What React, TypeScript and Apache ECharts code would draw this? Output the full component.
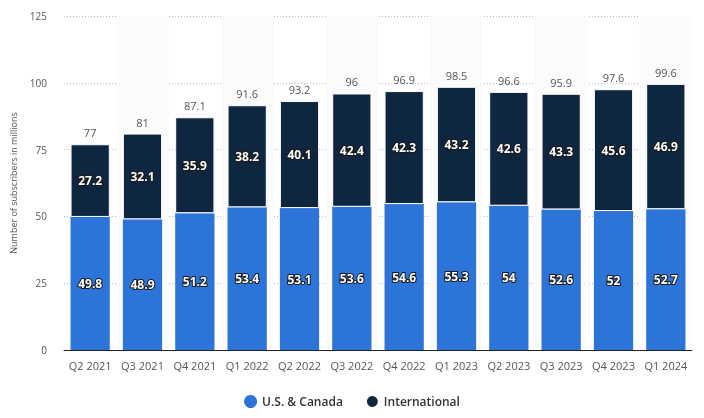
import React, { useEffect, useRef } from "react";
import * as echarts from "echarts";

const quarters = [
  "Q2 2021", "Q3 2021", "Q4 2021", "Q1 2022", "Q2 2022", "Q3 2022",
  "Q4 2022", "Q1 2023", "Q2 2023", "Q3 2023", "Q4 2023", "Q1 2024",
];
const usCanada = [49.8, 48.9, 51.2, 53.4, 53.1, 53.6, 54.6, 55.3, 54, 52.6, 52, 52.7];
const international = [27.2, 32.1, 35.9, 38.2, 40.1, 42.4, 42.3, 43.2, 42.6, 43.3, 45.6, 46.9];
const yTicks = [0, 25, 50, 75, 100, 125];

const FONT = "'Open Sans', 'Noto Sans', sans-serif";

const segmentLabel = {
  show: true,
  position: "inside" as const,
  color: "#fff",
  fontFamily: FONT,
  fontWeight: "bold" as const,
  fontSize: 12,
  textBorderColor: "#1a1a1a",
  textBorderWidth: 2,
};

export default function App() {
  const ref = useRef<HTMLDivElement>(null);

  useEffect(() => {
    if (!ref.current) return;
    const chart = echarts.init(ref.current, undefined, { renderer: "svg" });
    const totals = usCanada.map((v, i) => Math.round((v + international[i]) * 10) / 10);
    chart.setOption({
      animation: false,
      textStyle: { fontFamily: FONT },
      grid: { left: 64, right: 12, top: 16, bottom: 68 },
      legend: {
        bottom: 4,
        left: "center",
        icon: "circle",
        itemWidth: 13,
        itemHeight: 13,
        itemGap: 22,
        textStyle: { color: "#333", fontSize: 12, fontWeight: 600, fontFamily: FONT },
        data: ["U.S. & Canada", "International"],
      },
      xAxis: {
        type: "category",
        data: quarters,
        axisLine: { lineStyle: { color: "#222", width: 1 } },
        axisTick: { show: false },
        axisLabel: { color: "#555", fontSize: 11, margin: 10, interval: 0 },
        splitArea: { show: true, areaStyle: { color: ["rgba(255,255,255,0)", "#fbfbfc"] } },
      },
      yAxis: {
        type: "value",
        min: yTicks[0],
        max: yTicks[yTicks.length - 1],
        interval: 25,
        name: "Number of subscribers in millions",
        nameLocation: "middle",
        nameGap: 46,
        nameTextStyle: { color: "#555", fontSize: 9 },
        axisLine: { show: false },
        axisTick: { show: false },
        axisLabel: { color: "#555", fontSize: 10, margin: 17 },
        splitLine: { lineStyle: { color: "#bbb", type: [1, 2], width: 1 } },
      },
      series: [
        {
          name: "U.S. & Canada",
          type: "bar",
          stack: "subs",
          barWidth: "75%",
          data: usCanada,
          itemStyle: { color: "#2c74d7" },
          label: segmentLabel,
        },
        {
          name: "International",
          type: "bar",
          stack: "subs",
          data: international,
          itemStyle: { color: "#0f2640", borderColor: "#fff", borderWidth: 1 },
          label: segmentLabel,
        },
        {
          name: "Total",
          type: "bar",
          stack: "subs",
          data: totals.map(() => 0),
          itemStyle: { color: "transparent" },
          label: {
            show: true,
            position: "top",
            distance: 6,
            color: "#555",
            fontSize: 11,
            formatter: (p: any) => String(totals[p.dataIndex]),
          },
          tooltip: { show: false },
        },
      ],
    });
    return () => chart.dispose();
  }, []);

  return (
    <div
      ref={ref}
      style={{ position: "fixed", left: 0, top: 0, width: 704, height: 418 }}
    />
  );
}
